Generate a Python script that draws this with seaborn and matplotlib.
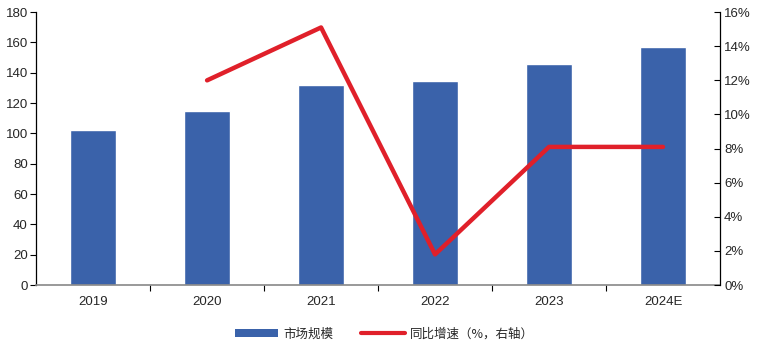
import numpy as np
import pandas as pd
import matplotlib
matplotlib.use("Agg")
import matplotlib.pyplot as plt
from matplotlib.ticker import FixedLocator, PercentFormatter
from matplotlib.lines import Line2D
from matplotlib.patches import Patch
import seaborn as sns

years = ["2019", "2020", "2021", "2022", "2023", "2024E"]
market_size = [102.2, 114.7, 131.8, 134.5, 145.7, 156.9]
growth_years = ["2020", "2021", "2022", "2023", "2024E"]
growth_pct = [12.0, 15.1, 1.8, 8.1, 8.1]

sns.set_theme(style="white")
plt.rcParams["font.family"] = ["Liberation Sans", "Noto Sans CJK SC", "DejaVu Sans"]

bar_color = "#3A62AA"
line_color = "#E0202A"

fig = plt.figure(figsize=(7.68, 3.46), dpi=100)
ax = fig.add_axes([0.047, 0.176, 0.8905, 0.789])

df = pd.DataFrame({"year": years, "size": market_size})
sns.barplot(data=df, x="year", y="size", color=bar_color, width=0.4,
            saturation=1, ax=ax, zorder=2)
ax.set_xlim(-0.5, len(years) - 0.5)
ax.set_ylim(0, 180)
ax.set_yticks(np.arange(0, 181, 20))
ax.set_xlabel("")
ax.set_ylabel("")

ax2 = ax.twinx()
gx = [years.index(y) for y in growth_years]
sns.lineplot(x=gx, y=growth_pct, color=line_color, linewidth=3.2, ax=ax2)
ax2.set_ylim(0, 16)
ax2.set_yticks(np.arange(0, 17, 2))
ax2.yaxis.set_major_formatter(PercentFormatter(decimals=0))
ax2.set_ylabel("")

for a in (ax, ax2):
    for s in a.spines.values():
        s.set_visible(False)
ax.spines["left"].set_visible(True)
ax.spines["left"].set_color("black")
ax.spines["left"].set_linewidth(0.9)
ax.spines["bottom"].set_visible(True)
ax.spines["bottom"].set_color("#888888")
ax.spines["bottom"].set_linewidth(1.2)
ax2.spines["right"].set_visible(True)
ax2.spines["right"].set_color("black")
ax2.spines["right"].set_linewidth(0.9)

ax.tick_params(axis="y", which="major", direction="out", length=4, width=0.8,
               color="black", labelsize=9.5, pad=2, left=True)
ax2.tick_params(axis="y", which="major", direction="in", length=4, width=0.8,
                color="black", labelsize=9.5, pad=3, right=True)
ax.xaxis.set_minor_locator(FixedLocator(np.arange(0.5, len(years) - 1, 1)))
ax.tick_params(axis="x", which="major", length=0, labelsize=9.5, pad=8)
ax.tick_params(axis="x", which="minor", direction="out", length=4, width=0.8,
               color="black", bottom=True)

handles = [Patch(facecolor=bar_color, edgecolor="none"),
           Line2D([0], [0], color=line_color, linewidth=3)]
labels = ["市场规模", "同比增速（%，右轴）"]
fig.legend(handles, labels, loc="center", bbox_to_anchor=(0.5, 0.035), ncol=2,
           frameon=False, handlelength=3.5, handleheight=0.5, handletextpad=0.4,
           columnspacing=2.2, prop={"family": ["Noto Sans CJK SC", "DejaVu Sans"], "size": 9})

fig.savefig("out.png", dpi=100, facecolor="white")
